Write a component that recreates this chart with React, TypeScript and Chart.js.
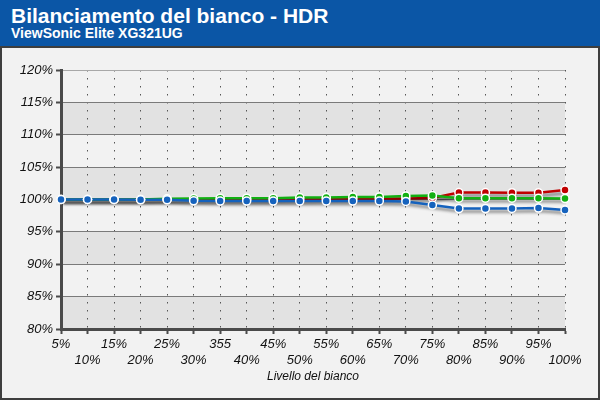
import React, { useEffect, useRef } from 'react';
import { Chart, registerables } from 'chart.js';

Chart.register(...registerables);

const categories = ['5%', '10%', '15%', '20%', '25%', '30%', '355', '40%', '45%', '50%', '55%', '60%', '65%', '70%', '75%', '80%', '85%', '90%', '95%', '100%'];
const redValues = [100.0, 100.0, 100.0, 100.0, 100.0, 100.0, 100.0, 100.0, 100.05, 100.05, 100.1, 100.1, 100.1, 100.15, 100.25, 101.08, 101.08, 101.05, 101.05, 101.45];
const greenValues = [100.0, 100.0, 100.0, 100.0, 100.1, 100.15, 100.2, 100.2, 100.2, 100.3, 100.3, 100.4, 100.4, 100.55, 100.62, 100.2, 100.2, 100.2, 100.2, 100.15];
const blueValues = [100.0, 100.0, 100.0, 99.95, 99.95, 99.8, 99.75, 99.75, 99.75, 99.75, 99.75, 99.75, 99.75, 99.7, 99.14, 98.6, 98.6, 98.62, 98.67, 98.36];
const yMin = 80;
const yMax = 120;
const yStep = 5;
const shadedBands = [[80, 85], [90, 95], [100, 105], [110, 115]];

const titleText = 'Bilanciamento del bianco - HDR';
const subtitleText = 'ViewSonic Elite XG321UG';
const xTitle = 'Livello del bianco';

const RED = '#c00000';
const GREEN = '#12b012';
const BLUE = '#1562bd';
const FONT = '"Liberation Sans", Arial, sans-serif';

const bandPlugin = {
  id: 'bands',
  beforeDraw(chart: any) {
    const { ctx, chartArea, scales } = chart;
    const y = scales.y;
    ctx.save();
    ctx.fillStyle = '#e2e2e2';
    for (const [a, b] of shadedBands) {
      const y1 = y.getPixelForValue(b);
      const y2 = y.getPixelForValue(a);
      ctx.fillRect(chartArea.left, y1, chartArea.right - chartArea.left, y2 - y1);
    }
    ctx.restore();
  },
};

const shadowPlugin = {
  id: 'lineShadow',
  beforeDatasetDraw(chart: any, args: any) {
    const ds = chart.data.datasets[args.index];
    if (ds.shadow) {
      const ctx = chart.ctx;
      ctx.save();
      ctx.shadowColor = 'rgba(0,0,0,0.45)';
      ctx.shadowOffsetX = 2;
      ctx.shadowOffsetY = 3;
      ctx.shadowBlur = 3;
    }
  },
  afterDatasetDraw(chart: any, args: any) {
    const ds = chart.data.datasets[args.index];
    if (ds.shadow) chart.ctx.restore();
  },
};

export default function App() {
  const ref = useRef<HTMLCanvasElement>(null);

  useEffect(() => {
    if (!ref.current) return;
    const labels = categories.map((c, i) => (i % 2 === 0 ? [c, ''] : ['', c]));
    const lineDs = (data: number[], color: string, order: number) => ({
      data,
      borderColor: color,
      backgroundColor: color,
      borderWidth: 2.5,
      pointRadius: 0,
      pointHoverRadius: 0,
      fill: false,
      tension: 0,
      order,
      shadow: true,
    });
    const pointDs = (data: number[], color: string, order: number) => ({
      data,
      showLine: false,
      borderColor: color,
      backgroundColor: color,
      pointRadius: 4,
      pointBackgroundColor: color,
      pointBorderColor: '#ffffff',
      pointBorderWidth: 1.5,
      order,
    });
    const tickFont = { family: FONT, size: 13, style: 'italic' as const, lineHeight: 1.23 };
    const chart = new Chart(ref.current, {
      type: 'line',
      data: {
        labels,
        datasets: [
          pointDs(blueValues, BLUE, 1),
          pointDs(greenValues, GREEN, 2),
          pointDs(redValues, RED, 3),
          lineDs(blueValues, BLUE, 4),
          lineDs(greenValues, GREEN, 5),
          lineDs(redValues, RED, 6),
        ] as any,
      },
      options: {
        animation: false,
        responsive: false,
        maintainAspectRatio: false,
        layout: { padding: { top: 70, left: 0, right: 35, bottom: 16 } },
        plugins: { legend: { display: false }, tooltip: { enabled: false } },
        scales: {
          x: {
            type: 'category',
            offset: false,
            grid: {
              display: true,
              offset: false,
              color: '#555555',
              lineWidth: 1,
              drawTicks: true,
              tickLength: 5,
              tickColor: '#4a4a4a',
              tickWidth: 2,
              tickBorderDash: [],
            },
            border: { display: true, color: '#4a4a4a', width: 3, dash: [1.5, 6.5] },
            ticks: { font: tickFont, color: '#111111', padding: 2, maxRotation: 0, autoSkip: false },
            title: { display: true, text: xTitle, font: { family: FONT, size: 12, style: 'italic' }, color: '#111111', padding: 0 },
            afterFit: (s: any) => { s.height = 55; },
          },
          y: {
            min: yMin,
            max: yMax,
            grid: {
              color: (c: any) => (c.tick && c.tick.value === yMax ? '#a8a8a8' : '#7a7a7a'),
              lineWidth: 1,
              drawTicks: true,
              tickLength: 5,
              tickColor: '#4a4a4a',
              tickWidth: 2,
            },
            border: { display: true, color: '#4a4a4a', width: 3 },
            ticks: {
              stepSize: yStep,
              font: tickFont,
              color: '#111111',
              padding: 3,
              callback: (v: any) => v + '%',
            },
            afterFit: (s: any) => { s.width = 61; },
          },
        },
      },
      plugins: [bandPlugin, shadowPlugin],
    });
    return () => chart.destroy();
  }, []);

  return (
    <div style={{ position: 'absolute', left: 0, top: 0, width: 600, height: 400, overflow: 'hidden', fontFamily: FONT }}>
      <div style={{ position: 'absolute', left: 0, top: 0, width: 600, height: 47, background: '#0b56a6' }} />
      <div style={{ position: 'absolute', left: 11, top: 5, color: '#fff', fontWeight: 'bold', fontSize: 21, lineHeight: '21px', whiteSpace: 'nowrap' }}>{titleText}</div>
      <div style={{ position: 'absolute', left: 11, top: 25.5, color: '#fff', fontWeight: 'bold', fontSize: 14, lineHeight: '14px', whiteSpace: 'nowrap' }}>{subtitleText}</div>
      <div style={{ position: 'absolute', left: 0, top: 46, width: 600, height: 354, boxSizing: 'border-box', border: '2px solid #3e3e3e', background: '#f2f2f2' }} />
      <canvas ref={ref} width={600} height={400} style={{ position: 'absolute', left: 0, top: 0, width: 600, height: 400 }} />
    </div>
  );
}
